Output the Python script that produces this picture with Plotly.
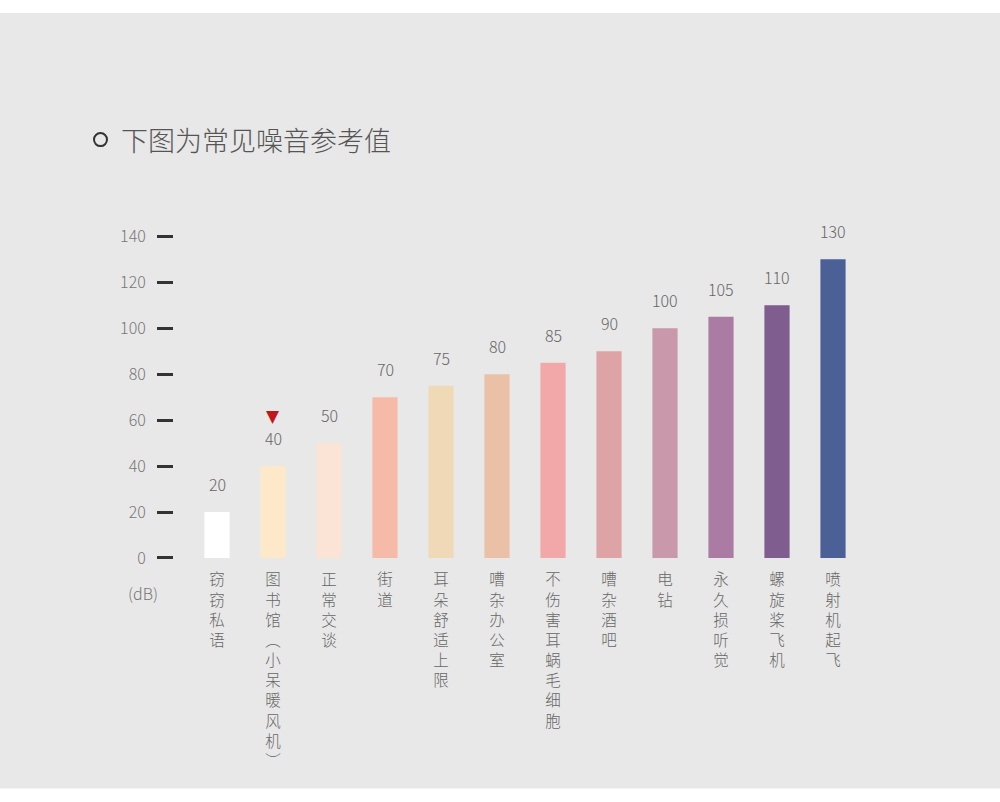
import plotly.graph_objects as go

categories = ["窃窃私语", "图书馆︵小呆暖风机︶", "正常交谈", "街道", "耳朵舒适上限", "嘈杂办公室",
              "不伤害耳蜗毛细胞", "嘈杂酒吧", "电钻", "永久损听觉", "螺旋桨飞机", "喷射机起飞"]
values = [20, 40, 50, 70, 75, 80, 85, 90, 100, 105, 110, 130]
colors = ["#ffffff", "#fde9c9", "#fbe3d6", "#f6bba8", "#efd9b7", "#eac1a6",
          "#f2a7a8", "#dea4a5", "#c998ab", "#ab7ba4", "#7f5d8e", "#4b6096"]
y_ticks = [0, 20, 40, 60, 80, 100, 120, 140]
title = "下图为常见噪音参考值"
unit = "(dB)"
highlight_index = 1

FONT = "Noto Sans CJK SC"
W, H = 1000, 802
# observed on-screen vertical mapping of paper coordinates
OFF, SPAN = 13.2, 776.3


def py(y_px):
    return 1 - (y_px - OFF) / SPAN


x_idx = list(range(len(categories)))
tick_text = ["<br>".join(list(c)) for c in categories]

fig = go.Figure()
fig.add_trace(go.Bar(
    x=x_idx, y=values, marker=dict(color=colors, line=dict(width=0)),
    width=0.45, hoverinfo="skip", showlegend=False,
))

annotations = []
for i, v in zip(x_idx, values):
    annotations.append(dict(
        x=i, y=v, xref="x", yref="y", text=str(v), showarrow=False,
        yanchor="bottom", yshift=14,
        font=dict(family=FONT, size=16, color="#666666", weight=300),
    ))
annotations.append(dict(
    x=highlight_index, y=values[highlight_index], xref="x", yref="y", text="▼",
    showarrow=False, yanchor="bottom", yshift=38,
    font=dict(family="DejaVu Sans", size=17, color="#c0171c"),
))
annotations.append(dict(
    x=143 / W, y=py(592), xref="paper", yref="paper", text=unit, showarrow=False,
    xanchor="center", yanchor="middle",
    font=dict(family=FONT, size=16, color="#777777", weight=300),
))
annotations.append(dict(
    x=119 / W, y=py(139), xref="paper", yref="paper", text=title, showarrow=False,
    xanchor="left", yanchor="middle",
    font=dict(family=FONT, size=27, color="#555555", weight=300),
))

shapes = [
    dict(type="rect", xref="paper", yref="paper", x0=0, x1=1, y0=py(787), y1=1,
         fillcolor="#e8e8e8", line=dict(width=0), layer="below"),
    dict(type="circle", xref="paper", yref="paper",
         x0=94 / W, x1=107 / W, y0=py(146), y1=py(133),
         line=dict(color="#333333", width=2), fillcolor="rgba(0,0,0,0)"),
]

fig.update_layout(
    width=W, height=H,
    margin=dict(l=0, r=0, t=0, b=0),
    paper_bgcolor="#ffffff", plot_bgcolor="rgba(0,0,0,0)",
    bargap=0.55,
    xaxis=dict(
        domain=[189 / W, 861 / W], range=[-0.5, len(categories) - 0.5],
        tickmode="array", tickvals=x_idx, ticktext=tick_text,
        showgrid=False, zeroline=False, showline=False, ticks="",
        tickfont=dict(family=FONT, size=15.5, color="#666666", weight=300),
        ticklabelstandoff=11, fixedrange=True,
    ),
    yaxis=dict(
        domain=[py(557), py(236)], range=[0, 140],
        anchor="free", position=173 / W,
        tickmode="array", tickvals=y_ticks,
        showgrid=False, zeroline=False, showline=False,
        ticks="outside", ticklen=16, tickwidth=3, tickcolor="#333333",
        tickfont=dict(family=FONT, size=16, color="#777777", weight=300),
        ticklabelstandoff=8, fixedrange=True,
    ),
    annotations=annotations, shapes=shapes,
)

fig.write_html("out.html", config={"displayModeBar": False})
